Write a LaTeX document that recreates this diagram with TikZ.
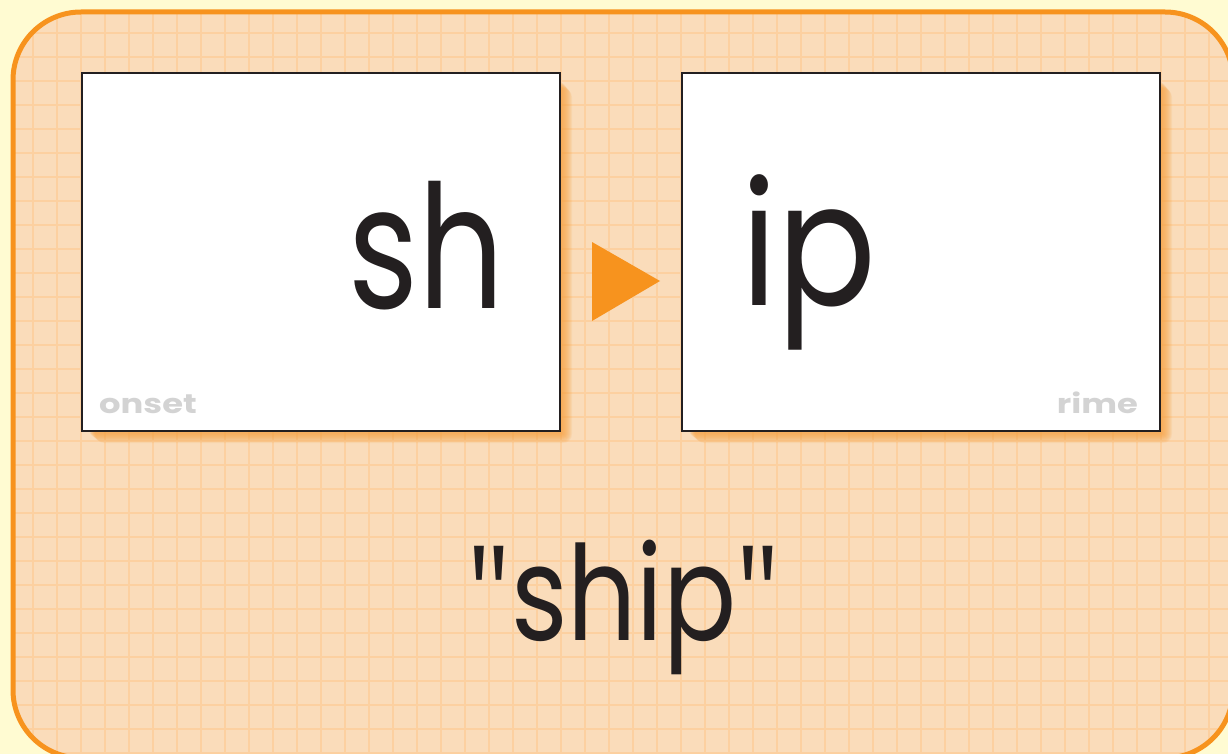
\documentclass[tikz,border=0pt]{standalone}
\usepackage{fontspec}
\setmainfont{Poppins}
\newfontfamily\quotefont{Open Sans}
\definecolor{bgyellow}{HTML}{FFFBD2}
\definecolor{peach}{HTML}{FADCBA}
\definecolor{gridc}{HTML}{FCD0A0}
\definecolor{orangec}{HTML}{F7931E}
\definecolor{shadowc}{HTML}{F7A240}
\definecolor{inkc}{HTML}{231F20}
\definecolor{labelc}{HTML}{D3D3D3}
\tikzset{
  gridln/.style={draw=gridc, line width=1.4pt},
  card/.style={draw=inkc, fill=white, line width=2.6pt, minimum width=478pt, minimum height=358pt, inner sep=0pt},
  bigtxt/.style={text=inkc, inner sep=0pt, anchor=base west, font=\fontsize{172}{172}\selectfont},
  smalltxt/.style={text=labelc, inner sep=0pt, anchor=base west, font=\fontsize{27}{27}\selectfont\bfseries},
  arrowtri/.style={fill=orangec},
}
\begin{document}
\begin{tikzpicture}[x=1pt,y=-1pt]
\useasboundingbox (0,0) rectangle (1228,754);
\fill[bgyellow] (0,0) rectangle (1228,754);
\begin{scope}
  \clip[rounded corners=68pt] (13,12) rectangle (1233,758);
  \fill[peach] (0,0) rectangle (1240,760);
  \foreach \k in {0,...,51} \draw[gridln] ({9+24*\k},0) -- ({9+24*\k},760);
  \foreach \k in {0,...,31} \draw[gridln] (0,{9+24*\k}) -- (1240,{9+24*\k});
\end{scope}
\draw[orangec, line width=5pt, rounded corners=68pt] (13,12) rectangle (1233,758);
% shadows
\foreach \cx in {82,682}{
  \foreach \i in {0,...,9}{
    \fill[shadowc, fill opacity=0.12, rounded corners=\i pt]
      (\cx+8+\i*0.6, 73+10+\i*0.6) rectangle (\cx+478+3+\i, 431+3+\i);
  }
}
\node[card] (onset) at (321,252) {};
\node[card] (rime) at (921,252) {};
\node[bigtxt] (sh) at (348,308) {\scalebox{0.78}[1]{sh}};
\node[bigtxt] (ip) at (741,305) {\scalebox{0.85}[1]{ip}};
\node[smalltxt] (onsetlbl) at (99,413) {\scalebox{1.25}[1]{onset}};
\node[smalltxt, anchor=base east] (rimelbl) at (1138,413) {\scalebox{1.25}[1]{rime}};
\fill[arrowtri] (592,242) -- (592,321) -- (660,281) -- cycle;
\node[text=inkc, inner sep=0pt, anchor=base, font=\fontsize{132}{132}\selectfont] (word) at (624,640) {\scalebox{0.82}[1]{{\quotefont\char"22}ship{\quotefont\char"22}}};
\end{tikzpicture}
\end{document}
